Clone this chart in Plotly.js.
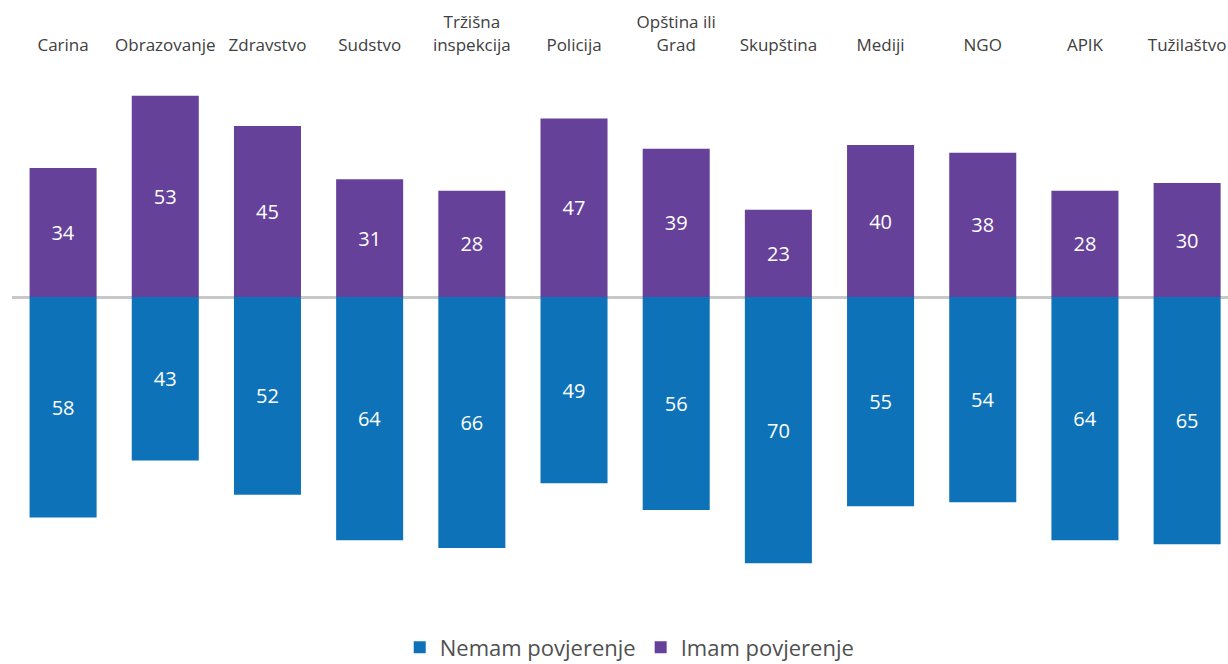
<!DOCTYPE html>
<html>
<head>
<meta charset="utf-8">
<script src="https://cdn.plot.ly/plotly-3.0.1.min.js"></script>
<style>html,body{margin:0;padding:0;background:#fff;}#chart{width:1228px;height:664px;}</style>
</head>
<body>
<div id="chart"></div>
<script>
var categories = ["Carina", "Obrazovanje", "Zdravstvo", "Sudstvo", "Tržišna<br>inspekcija", "Policija", "Opština ili<br>Grad", "Skupština", "Mediji", "NGO", "APIK", "Tužilaštvo"];
var imamPovjerenje = [34, 53, 45, 31, 28, 47, 39, 23, 40, 38, 28, 30];
var nemamPovjerenje = [58, 43, 52, 64, 66, 49, 56, 70, 55, 54, 64, 65];

var FONT = "Open Sans, Noto Sans, sans-serif";

var traceNemam = {
  type: "bar",
  name: "Nemam povjerenje",
  x: categories,
  y: nemamPovjerenje.map(function (v) { return -v; }),
  text: nemamPovjerenje.map(String),
  textposition: "inside",
  insidetextanchor: "middle",
  textfont: {color: "#ffffff", size: 20, family: FONT},
  marker: {color: "#0E72B9"},
  hoverinfo: "skip"
};
var traceImam = {
  type: "bar",
  name: "Imam povjerenje",
  x: categories,
  y: imamPovjerenje,
  text: imamPovjerenje.map(String),
  textposition: "inside",
  insidetextanchor: "middle",
  textfont: {color: "#ffffff", size: 20, family: FONT},
  marker: {color: "#65419A"},
  hoverinfo: "skip"
};

var layout = {
  width: 1228,
  height: 664,
  margin: {l: 12, r: 0, t: 55, b: 64, autoexpand: false},
  paper_bgcolor: "#ffffff",
  plot_bgcolor: "#ffffff",
  barmode: "relative",
  bargap: 0.344,
  showlegend: true,
  font: {family: FONT, color: "#404040", size: 17},
  xaxis: {
    side: "top",
    type: "category",
    range: [-0.5, 11.4],
    showgrid: false,
    showline: false,
    ticks: "",
    tickfont: {size: 17, color: "#404040", family: FONT},
    fixedrange: true
  },
  yaxis: {
    range: [-79.7, 63.7],
    showgrid: false,
    showticklabels: false,
    ticks: "",
    zeroline: true,
    zerolinecolor: "#c8c8c8",
    zerolinewidth: 3,
    fixedrange: true
  },
  legend: {
    orientation: "h",
    x: 0.508,
    xanchor: "center",
    y: -0.087,
    yanchor: "middle",
    font: {size: 22, color: "#505050", family: FONT},
    traceorder: "normal"
  }
};

Plotly.newPlot("chart", [traceNemam, traceImam], layout, {displayModeBar: false, staticPlot: true});
</script>
</body>
</html>
